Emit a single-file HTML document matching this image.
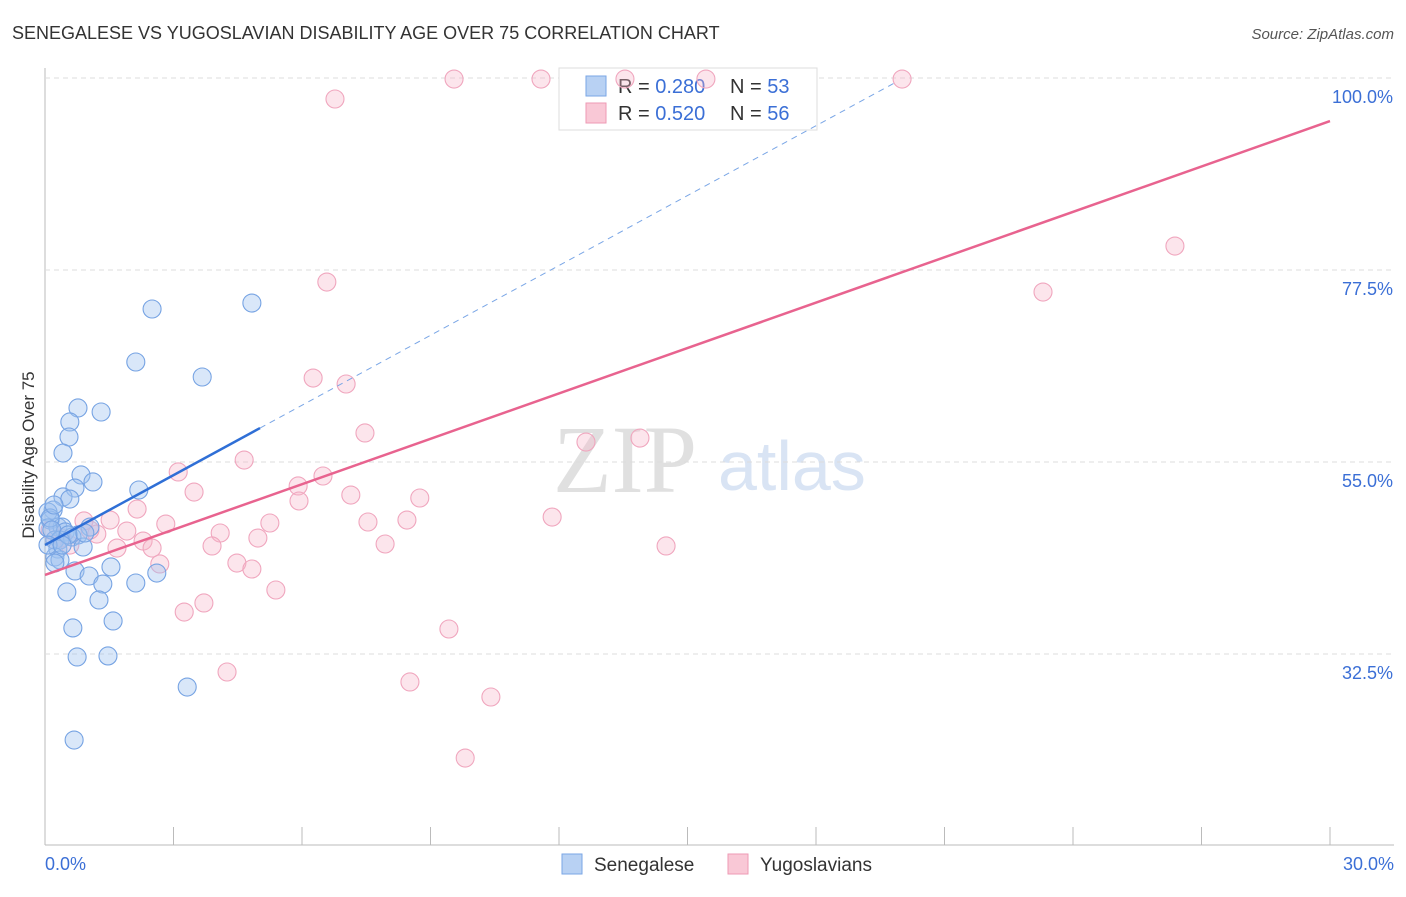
<!DOCTYPE html>
<html><head><meta charset="utf-8"><style>
body{margin:0;background:#fff;font-family:"Liberation Sans",sans-serif}
</style></head><body>
<svg id="c" width="1406" height="892" xmlns="http://www.w3.org/2000/svg">
<text x="12" y="39" font-size="18" fill="#333">SENEGALESE VS YUGOSLAVIAN DISABILITY AGE OVER 75 CORRELATION CHART</text>
<text x="1394" y="39" font-size="15" fill="#555" font-style="italic" text-anchor="end">Source: ZipAtlas.com</text>
<text x="34" y="455" font-size="17" fill="#333" text-anchor="middle" transform="rotate(-90 34 455)">Disability Age Over 75</text>
<text x="553" y="492" font-size="96" fill="#e0e0e0" font-family="Liberation Serif,serif">ZIP</text>
<text x="718" y="490" font-size="70" fill="#d9e4f4">atlas</text>
<g id="grid"></g>
<g>
<rect x="559" y="68" width="258" height="62" fill="#fff" stroke="#ddd"/>
<rect x="586" y="76" width="20" height="20" fill="#b8d1f3" stroke="#7aa6e6"/>
<text x="618" y="93" font-size="20" fill="#333">R = <tspan fill="#3b6fd6">0.280</tspan></text>
<text x="730" y="93" font-size="20" fill="#333">N = <tspan fill="#3b6fd6">53</tspan></text>
<rect x="586" y="103" width="20" height="20" fill="#f9c8d6" stroke="#ee9ab4"/>
<text x="618" y="120" font-size="20" fill="#333">R = <tspan fill="#3b6fd6">0.520</tspan></text>
<text x="730" y="120" font-size="20" fill="#333">N = <tspan fill="#3b6fd6">56</tspan></text>
</g>
<g id="pts"></g><g id="lines"></g>
<g>
<rect x="562" y="854" width="20" height="20" fill="#b8d1f3" stroke="#7aa6e6"/>
<text x="594" y="871" font-size="19" fill="#333">Senegalese</text>
<rect x="728" y="854" width="20" height="20" fill="#f9c8d6" stroke="#ee9ab4"/>
<text x="760" y="871" font-size="19" fill="#333">Yugoslavians</text>
</g>
<text x="45" y="870" font-size="18" fill="#3b6fd6">0.0%</text>
<text x="1394" y="870" font-size="18" fill="#3b6fd6" text-anchor="end">30.0%</text>
</svg>
<script>
const yTicks=[100,77.5,55,32.5];
const yTickLabels=["100.0%","77.5%","55.0%","32.5%"];
const xTicks=[0,3,6,9,12,15,18,21,24,27,30];
const bluePx=[[152,309],[252,303],[136,362],[202,377],[78,408],[101,412],[70,422],[69,437],[63,453],[81,475],[93,482],[75,488],[139,490],[63,497],[70,499],[53,510],[48,512],[50,520],[58,527],[62,527],[90,527],[65,532],[78,535],[72,537],[48,528],[55,540],[60,540],[83,547],[58,549],[55,557],[60,560],[55,563],[111,567],[75,571],[89,576],[157,573],[103,584],[136,583],[67,592],[99,600],[113,621],[73,628],[77,657],[108,656],[187,687],[74,740],[50,518],[52,530],[48,545],[68,535],[85,533],[62,545],[54,505]];
const pinkPx=[[454,79],[541,79],[625,79],[706,79],[902,79],[335,99],[1175,246],[327,282],[1043,292],[313,378],[346,384],[365,433],[586,442],[640,438],[244,460],[178,472],[323,476],[194,492],[298,486],[351,495],[420,498],[299,501],[137,509],[84,521],[166,524],[270,523],[368,522],[407,520],[552,517],[127,531],[220,533],[97,534],[258,538],[143,541],[152,548],[212,546],[385,544],[117,548],[666,546],[237,563],[252,569],[160,564],[276,590],[204,603],[184,612],[449,629],[227,672],[410,682],[491,697],[465,758],[55,540],[70,545],[90,530],[110,520],[50,530],[62,538]];
const blueX=bluePx.map(p=>+((p[0]-45)/42.833).toFixed(2));
const blueY=bluePx.map(p=>+(100-(p[1]-78)/8.5333).toFixed(2));
const pinkX=pinkPx.map(p=>+((p[0]-45)/42.833).toFixed(2));
const pinkY=pinkPx.map(p=>+(100-(p[1]-78)/8.5333).toFixed(2));
const blueFit=[45.27,2.73], pinkFit=[41.76,1.773];
const X=v=>45+v*42.833, Y=v=>78+(100-v)*8.5333;
const NS="http://www.w3.org/2000/svg";
function mk(t,a,p){const e=document.createElementNS(NS,t);for(const k in a)e.setAttribute(k,a[k]);p.appendChild(e);return e;}
const grid=document.getElementById('grid');
mk('line',{x1:45,y1:68,x2:45,y2:845,stroke:'#bbb'},grid);
mk('line',{x1:45,y1:845,x2:1394,y2:845,stroke:'#bbb'},grid);
yTicks.forEach((t,i)=>{
 const l=mk('line',{x1:45,y1:Y(t),x2:1394,y2:Y(t),stroke:'#ddd','stroke-dasharray':'5,4'},grid);
 
 
 const tx=mk('text',{x:1393,y:Y(t)+25,'font-size':18,fill:'#3b6fd6','text-anchor':'end'},grid);
 tx.textContent=yTickLabels[i];
 
 
});
xTicks.forEach(t=>{
 const l=mk('line',{x1:X(t),y1:827,x2:X(t),y2:845,stroke:'#bbb'},grid);
 
 
});
const pts=document.getElementById('pts');
pinkX.forEach((x,i)=>{
 const c=mk('circle',{cx:X(x),cy:Y(pinkY[i]),r:9,fill:'rgba(247,180,200,0.35)',stroke:'#f0a6be','stroke-width':1.1},pts);
 
 
});
blueX.forEach((x,i)=>{
 const c=mk('circle',{cx:X(x),cy:Y(blueY[i]),r:9,fill:'rgba(160,195,240,0.4)',stroke:'#76a3e3','stroke-width':1.1},pts);
 
 
});
const lines=document.getElementById('lines');
const bd=mk('line',{x1:X(5.02),y1:Y(blueFit[0]+blueFit[1]*5.02),x2:X(19.9),y2:Y(blueFit[0]+blueFit[1]*19.9),stroke:'#7aa6e6','stroke-dasharray':'6,5','stroke-width':1},lines);


const bl=mk('line',{x1:X(0),y1:Y(blueFit[0]),x2:X(5.02),y2:Y(blueFit[0]+blueFit[1]*5.02),stroke:'#2f6fd6','stroke-width':2.5},lines);


const pl=mk('line',{x1:X(0),y1:Y(pinkFit[0]),x2:X(30),y2:Y(pinkFit[0]+pinkFit[1]*30),stroke:'#e8638f','stroke-width':2.5},lines);


</script>
</body></html>
